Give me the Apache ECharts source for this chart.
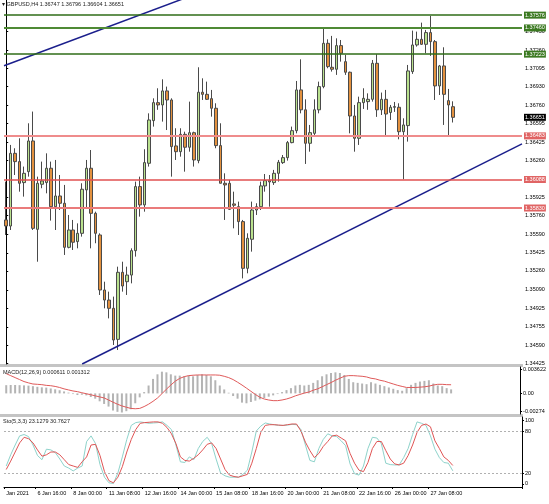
<!DOCTYPE html>
<html><head><meta charset="utf-8">
<script src="https://cdn.jsdelivr.net/npm/echarts/dist/echarts.min.js"></script>
<style>html,body{margin:0;padding:0;background:#fff}#c{width:549px;height:504px}</style>
</head><body><div id="c"></div>
<script>
const headerText = '\u25BE GBPUSD,H4 1.36747 1.36796 1.36604 1.36651';
const macdTitle = 'MACD(12,26,9) 0.000611 0.001312';
const stochTitle = 'Sto(5,3,3) 23.1279 30.7627';

const tickLabels = ['Jan 2021','6 Jan 16:00','8 Jan 00:00','11 Jan 08:00','12 Jan 16:00','14 Jan 00:00','15 Jan 08:00','18 Jan 16:00','20 Jan 00:00','21 Jan 08:00','22 Jan 16:00','26 Jan 00:00','27 Jan 08:00'];
const tickBars = [0,8,16,24,32,40,48,56,64,72,80,88,96];
const slotCount = 116;

const priceTicks = [1.37430,1.37260,1.37095,1.36930,1.36760,1.36595,1.36425,1.36260,1.35925,1.35760,1.35590,1.35425,1.35260,1.35090,1.34925,1.34755,1.34590,1.34425];
const greenLevels = [1.37576,1.37460,1.37223];
const redLevels = [1.36483,1.36088,1.35830];
const lastPrice = 1.36651;

const opens = [1.35722,1.35667,1.36325,1.36250,1.36060,1.36159,1.36437,1.35637,1.36045,1.36060,
1.36190,1.35842,1.35939,1.35873,1.35474,1.35631,1.35526,1.35601,1.35994,1.36190,
1.35782,1.35586,1.35088,1.34997,1.34922,1.34641,1.35248,1.35163,1.35223,1.35444,
1.36024,1.35858,1.36235,1.36621,1.36784,1.36763,1.36890,1.36808,1.36392,1.36340,
1.36497,1.36380,1.36512,1.36259,1.36878,1.36859,1.36820,1.36733,1.36395,1.36054,
1.36054,1.35867,1.35842,1.35707,1.35284,1.35547,1.35812,1.35842,1.36030,1.36078,
1.36060,1.36144,1.36241,1.36286,1.36422,1.36530,1.36899,1.36719,1.36416,1.36506,
1.36719,1.36929,1.37321,1.37104,1.37086,1.37300,1.37155,1.37059,1.36663,1.36461,
1.36784,1.36793,1.36814,1.37140,1.36719,1.36814,1.36695,1.36742,1.36742,1.36521,
1.36576,1.37065,1.37306,1.37357,1.37312,1.37418,1.37336,1.36935,1.37116,1.36802,
1.36747];
const closes = [1.35667,1.36325,1.36250,1.36054,1.36144,1.36437,1.35646,1.36054,1.36075,1.36190,
1.35842,1.35939,1.35873,1.35474,1.35631,1.35520,1.35601,1.36000,1.36190,1.35782,
1.35601,1.35088,1.34997,1.34922,1.34635,1.35248,1.35124,1.35223,1.35444,1.36024,
1.35858,1.36241,1.36627,1.36784,1.36763,1.36890,1.36808,1.36386,1.36340,1.36497,
1.36380,1.36512,1.36265,1.36878,1.36859,1.36814,1.36733,1.36395,1.36054,1.36039,
1.35818,1.35855,1.35707,1.35284,1.35556,1.35812,1.35842,1.36030,1.36078,1.36066,
1.36144,1.36244,1.36286,1.36422,1.36530,1.36899,1.36719,1.36416,1.36512,1.36719,
1.36929,1.37321,1.37110,1.37086,1.37300,1.37231,1.37059,1.36663,1.36461,1.36784,
1.36823,1.36814,1.37140,1.36719,1.36814,1.36681,1.36742,1.36748,1.36521,1.36582,
1.37071,1.37306,1.37357,1.37312,1.37418,1.37336,1.36935,1.37116,1.36859,1.36763,
1.36651];
const lows = [1.35586,1.35631,1.36129,1.35978,1.35933,1.36114,1.35631,1.35344,1.36009,1.35963,
1.35716,1.35631,1.35812,1.35405,1.35465,1.35450,1.35465,1.35571,1.35827,1.35465,
1.35511,1.35043,1.34922,1.34831,1.34590,1.34545,1.35073,1.35043,1.35148,1.35390,
1.35752,1.35797,1.36205,1.36567,1.36719,1.36612,1.36536,1.36114,1.36265,1.36295,
1.36159,1.36340,1.36205,1.36235,1.36808,1.36808,1.36657,1.36371,1.36054,1.35722,
1.35812,1.35646,1.35586,1.35193,1.35239,1.35435,1.35767,1.35812,1.35978,1.35842,
1.36039,1.36069,1.36229,1.36259,1.36416,1.36506,1.36687,1.36229,1.36340,1.36476,
1.36687,1.36914,1.37095,1.37065,1.37035,1.37155,1.37035,1.36506,1.36340,1.36401,
1.36727,1.36719,1.36793,1.36655,1.36672,1.36476,1.36627,1.36700,1.36452,1.36090,
1.36431,1.37044,1.37291,1.37306,1.37231,1.37207,1.36808,1.36853,1.36582,1.36491,
1.36604];
const highs = [1.36069,1.36401,1.36371,1.36461,1.36205,1.36597,1.36703,1.36114,1.36250,1.36325,
1.36250,1.36265,1.36129,1.36039,1.35767,1.35722,1.35691,1.36054,1.36265,1.36355,
1.35797,1.35601,1.35163,1.35073,1.35028,1.35299,1.35344,1.35299,1.35465,1.36069,
1.36114,1.36362,1.36687,1.36823,1.36914,1.36995,1.36929,1.36823,1.36552,1.36552,
1.36521,1.36793,1.36521,1.37104,1.37004,1.36974,1.36899,1.36778,1.36597,1.36144,
1.36084,1.35978,1.35888,1.35722,1.35601,1.35888,1.35873,1.36069,1.36138,1.36129,
1.36175,1.36265,1.36310,1.36437,1.36567,1.36980,1.37176,1.36814,1.36582,1.36814,
1.36974,1.37457,1.37357,1.37388,1.37366,1.37351,1.37216,1.37065,1.36763,1.36838,
1.36914,1.36868,1.37170,1.37222,1.36875,1.36899,1.36763,1.36790,1.36778,1.36642,
1.37125,1.37436,1.37427,1.37508,1.37442,1.37569,1.37351,1.37125,1.37285,1.36908,
1.36796];

const upperTrend = [[-0.5,1.37118],[42,1.37760]];
const lowerTrend = [[17,1.34418],[115.5,1.36410]];

const macdMain = [0.00125,0.00128,0.00128,0.00125,0.00122,0.00118,0.00110,
0.00100,0.00092,0.00088,0.00075,0.00062,0.00048,0.00030,
0.00012,-0.00010,-0.00025,-0.00020,-0.00030,-0.00055,-0.00080,
-0.00120,-0.00160,-0.00200,-0.00260,-0.00280,-0.00290,-0.00270,
-0.00240,-0.00150,-0.00060,0.00020,0.00120,0.00220,0.00290,
0.00330,0.00320,0.00290,0.00270,0.00270,0.00260,0.00270,
0.00260,0.00280,0.00290,0.00280,0.00260,0.00200,0.00120,
0.00060,0.00010,-0.00040,-0.00080,-0.00140,-0.00150,-0.00130,
-0.00110,-0.00090,-0.00070,-0.00050,-0.00030,-0.00010,0.00020,
0.00050,0.00080,0.00120,0.00130,0.00120,0.00130,0.00160,
0.00200,0.00260,0.00290,0.00310,0.00320,0.00310,0.00280,
0.00220,0.00170,0.00160,0.00150,0.00140,0.00170,0.00150,
0.00130,0.00110,0.00090,0.00070,0.00050,0.00040,0.00080,
0.00130,0.00160,0.00180,0.00190,0.00200,0.00150,0.00120,
0.00110,0.00080,0.000611];
const macdSignal = [0.0030,0.0027,0.0024,0.0021,0.0018,0.0016,0.00143,0.00138,0.00133,0.00122,
0.00117,0.00106,0.0009,0.00069,0.00053,0.00037,0.00027,0.0001,-0.00005,-0.0002,
-0.00037,-0.00053,-0.00069,-0.0010,-0.00133,-0.00164,-0.0019,-0.0021,-0.00228,-0.00233,
-0.00228,-0.0020,-0.00164,-0.0012,-0.0007,-0.00005,0.00064,0.00127,0.00186,0.00228,
0.00254,0.0027,0.00276,0.0028,0.0028,0.0028,0.0028,0.0028,0.00276,0.0026,
0.0024,0.0021,0.0017,0.00127,0.0008,0.00032,-0.00016,-0.00058,-0.00085,-0.0010,
-0.0011,-0.0011,-0.0010,-0.00085,-0.00064,-0.00037,-0.00016,0.00005,0.0002,0.00048,
0.00069,0.0010,0.00133,0.00164,0.0020,0.0023,0.0026,0.0027,0.0027,0.00265,
0.0026,0.0025,0.0023,0.0022,0.0020,0.00186,0.00164,0.00143,0.00122,0.00106,
0.0009,0.0009,0.0009,0.00095,0.0010,0.0011,0.00127,0.00138,0.00138,0.00133,
0.001312];
const macdTicks = [0.003622,0,-0.00274];
const macdTickText = ['0.003622','0.00','-0.00274'];

const stochMain = [30,46,60,73,75,72,60,45,39,54,
53,49,40,30,27,23,27,30,65,73,
62,32,14,6,5,20,43,68,88,92,
93,92,91,91.5,92,93,88,82,60,36,
35,43,39,55,65,71,62,40,20,16,
14,14,14,18,24,50,80,87,91.5,90,
89,88,88,88.5,89.5,89,82,60,38,36,
55,68,76,73,72,66,59,33,19,17,
30,55,71,70,62,34,32,31.5,31.5,42,
55,75,93,91,88,73,54,42,35,34,
23.1279];
const stochSignal = [25,37,50,63,71,69,63,53,44,46,
50,50,46,39,32,30,28,36,43,60,
61,45,22,9,6,14,29,50,68,82,
91,92,92.5,93,93,91,85,76,62,43,
38,37,41,46,53,61,63,55,40,25,
17,15,14,16,18,34,55,78,88,89,
89,88.5,88,89,90,90,80,64,52,42,
48,58,65,73,74,70,66,48,34,24,
22,35,55,65,65,52,40,33,31.5,34,
45,60,78,88,90,86,66,55,43,38,
30.7627];
const stochLevels = [80,20];
const stochTickPos = [95.5,80,20,4.5];
const stochTickText = ['100','80','20','0'];

// ---- build ----
const cats = Array.from({length: slotCount}, (_, i) => i);
const candleData = opens.map((o, i) => [o, closes[i], lows[i], highs[i]]);
const labelAt = {};
tickBars.forEach((b, k) => { labelAt[Math.max(0, b - 1)] = tickLabels[k]; });
const FONT = 'Liberation Sans';
const fs = 5.5;

function tagLabel(v, bg) {
  return {show: true, position: 'end', distance: 2, formatter: () => v.toFixed(5),
    color: '#fff', backgroundColor: bg, padding: [1, 1, 0, 1], fontSize: fs, fontFamily: FONT, lineHeight: 6};
}
function levelLine(v, lineColor, width, bg) {
  return {yAxis: v, lineStyle: {color: lineColor, width: width, type: 'solid'}, label: tagLabel(v, bg)};
}
const levelData = [
  levelLine(greenLevels[0], '#2f6d17', 1.5, '#3c7a22'),
  levelLine(greenLevels[1], '#4f8a35', 2, '#3c7a22'),
  levelLine(greenLevels[2], '#2f6d17', 1.5, '#3c7a22'),
  levelLine(redLevels[0], '#ef8c8c', 2, '#e06464'),
  levelLine(redLevels[1], '#e05050', 1.5, '#e06464'),
  levelLine(redLevels[2], '#ea7b7b', 2, '#e06464')
];
const lastPriceData = [{yAxis: lastPrice, lineStyle: {color: 'rgba(0,0,0,0)', width: 1}, label: tagLabel(lastPrice, '#000')}];

const chart = echarts.init(document.getElementById('c'), null, {renderer: 'canvas'});
const titleStyle = {fontSize: 5.5, fontWeight: 'normal', color: '#222', fontFamily: FONT};
const option = {
  animation: false,
  backgroundColor: '#fff',
  textStyle: {fontFamily: FONT},
  title: [
    {text: headerText, left: 2, top: 1, padding: 0, textStyle: titleStyle},
    {text: macdTitle, left: 3, top: 369, padding: 0, textStyle: titleStyle},
    {text: stochTitle, left: 3, top: 418, padding: 0, textStyle: titleStyle}
  ],
  graphic: [
    {type: 'rect', shape: {x: 0, y: 364, width: 523, height: 3}, style: {fill: '#c4c4c4'}},
    {type: 'rect', shape: {x: 0, y: 414, width: 523, height: 3}, style: {fill: '#c4c4c4'}}
  ],
  grid: [
    {left: 4, top: 0, width: 518, height: 364},
    {left: 4, top: 367, width: 518, height: 47},
    {left: 4, top: 417, width: 518, height: 70}
  ],
  xAxis: [
    {type: 'category', gridIndex: 0, data: cats, show: false},
    {type: 'value', gridIndex: 0, min: -0.5, max: slotCount - 0.5, show: false},
    {type: 'category', gridIndex: 1, data: cats, show: false},
    {type: 'category', gridIndex: 2, data: cats,
      axisLine: {show: true, lineStyle: {color: '#000', width: 1}},
      axisTick: {show: true, length: 2, interval: (i) => labelAt[i] !== undefined, lineStyle: {color: '#000'}},
      axisLabel: {interval: (i) => labelAt[i] !== undefined, formatter: (v, i) => labelAt[i] || '',
        align: 'left', fontSize: fs, color: '#000', margin: 3, fontFamily: FONT}}
  ],
  yAxis: [
    {type: 'value', gridIndex: 0, position: 'right', min: 1.34418, max: 1.37713,
      splitLine: {show: false},
      axisLine: {show: true, lineStyle: {color: '#000'}},
      axisTick: {show: true, length: 2, customValues: priceTicks, lineStyle: {color: '#000'}},
      axisLabel: {customValues: priceTicks, formatter: (v) => v.toFixed(5), fontSize: fs, color: '#000', margin: 3, fontFamily: FONT}},
    {type: 'value', gridIndex: 1, position: 'right', min: -0.003128, max: 0.004010,
      splitLine: {show: false},
      axisLine: {show: true, lineStyle: {color: '#000'}},
      axisTick: {show: true, length: 2, customValues: macdTicks, lineStyle: {color: '#000'}},
      axisLabel: {customValues: macdTicks, formatter: (v) => macdTickText[macdTicks.indexOf(v)] ?? '', fontSize: fs, color: '#000', margin: 3, fontFamily: FONT}},
    {type: 'value', gridIndex: 2, position: 'right', min: 0, max: 100,
      splitLine: {show: false},
      axisLine: {show: true, lineStyle: {color: '#000'}},
      axisTick: {show: true, length: 2, customValues: stochTickPos, lineStyle: {color: '#000'}},
      axisLabel: {customValues: stochTickPos, formatter: (v) => stochTickText[stochTickPos.indexOf(v)] ?? '', fontSize: fs, color: '#000', margin: 3, fontFamily: FONT}}
  ],
  series: [
    {type: 'candlestick', xAxisIndex: 0, yAxisIndex: 0, data: candleData, barWidth: 3,
      itemStyle: {color: '#b9e18e', color0: '#e3913f', borderColor: '#4a4a4a', borderColor0: '#4a4a4a', borderWidth: 1}},
    {type: 'line', xAxisIndex: 1, yAxisIndex: 0, data: upperTrend, symbol: 'none', z: 3,
      lineStyle: {color: '#1b1f8c', width: 1.5},
      markLine: {symbol: 'none', silent: true, animation: false, precision: 5, data: levelData}},
    {type: 'line', xAxisIndex: 1, yAxisIndex: 0, data: lowerTrend, symbol: 'none', z: 3,
      lineStyle: {color: '#1b1f8c', width: 1.5},
      markLine: {symbol: 'none', silent: true, animation: false, precision: 5, data: lastPriceData}},
    {type: 'bar', xAxisIndex: 2, yAxisIndex: 1, data: macdMain, barWidth: 2,
      itemStyle: {color: '#b4b4b4'}},
    {type: 'line', xAxisIndex: 2, yAxisIndex: 1, data: macdSignal, symbol: 'none',
      lineStyle: {color: '#e05a5a', width: 1}},
    {type: 'line', xAxisIndex: 3, yAxisIndex: 2, data: stochMain, symbol: 'none',
      lineStyle: {color: '#8ed3cb', width: 1},
      markLine: {symbol: 'none', silent: true, label: {show: false},
        lineStyle: {color: '#b0b0b0', type: [2, 2], width: 1},
        data: stochLevels.map(v => ({yAxis: v}))}},
    {type: 'line', xAxisIndex: 3, yAxisIndex: 2, data: stochSignal, symbol: 'none',
      lineStyle: {color: '#e05555', width: 1}}
  ]
};
chart.setOption(option);
</script>
</body></html>
